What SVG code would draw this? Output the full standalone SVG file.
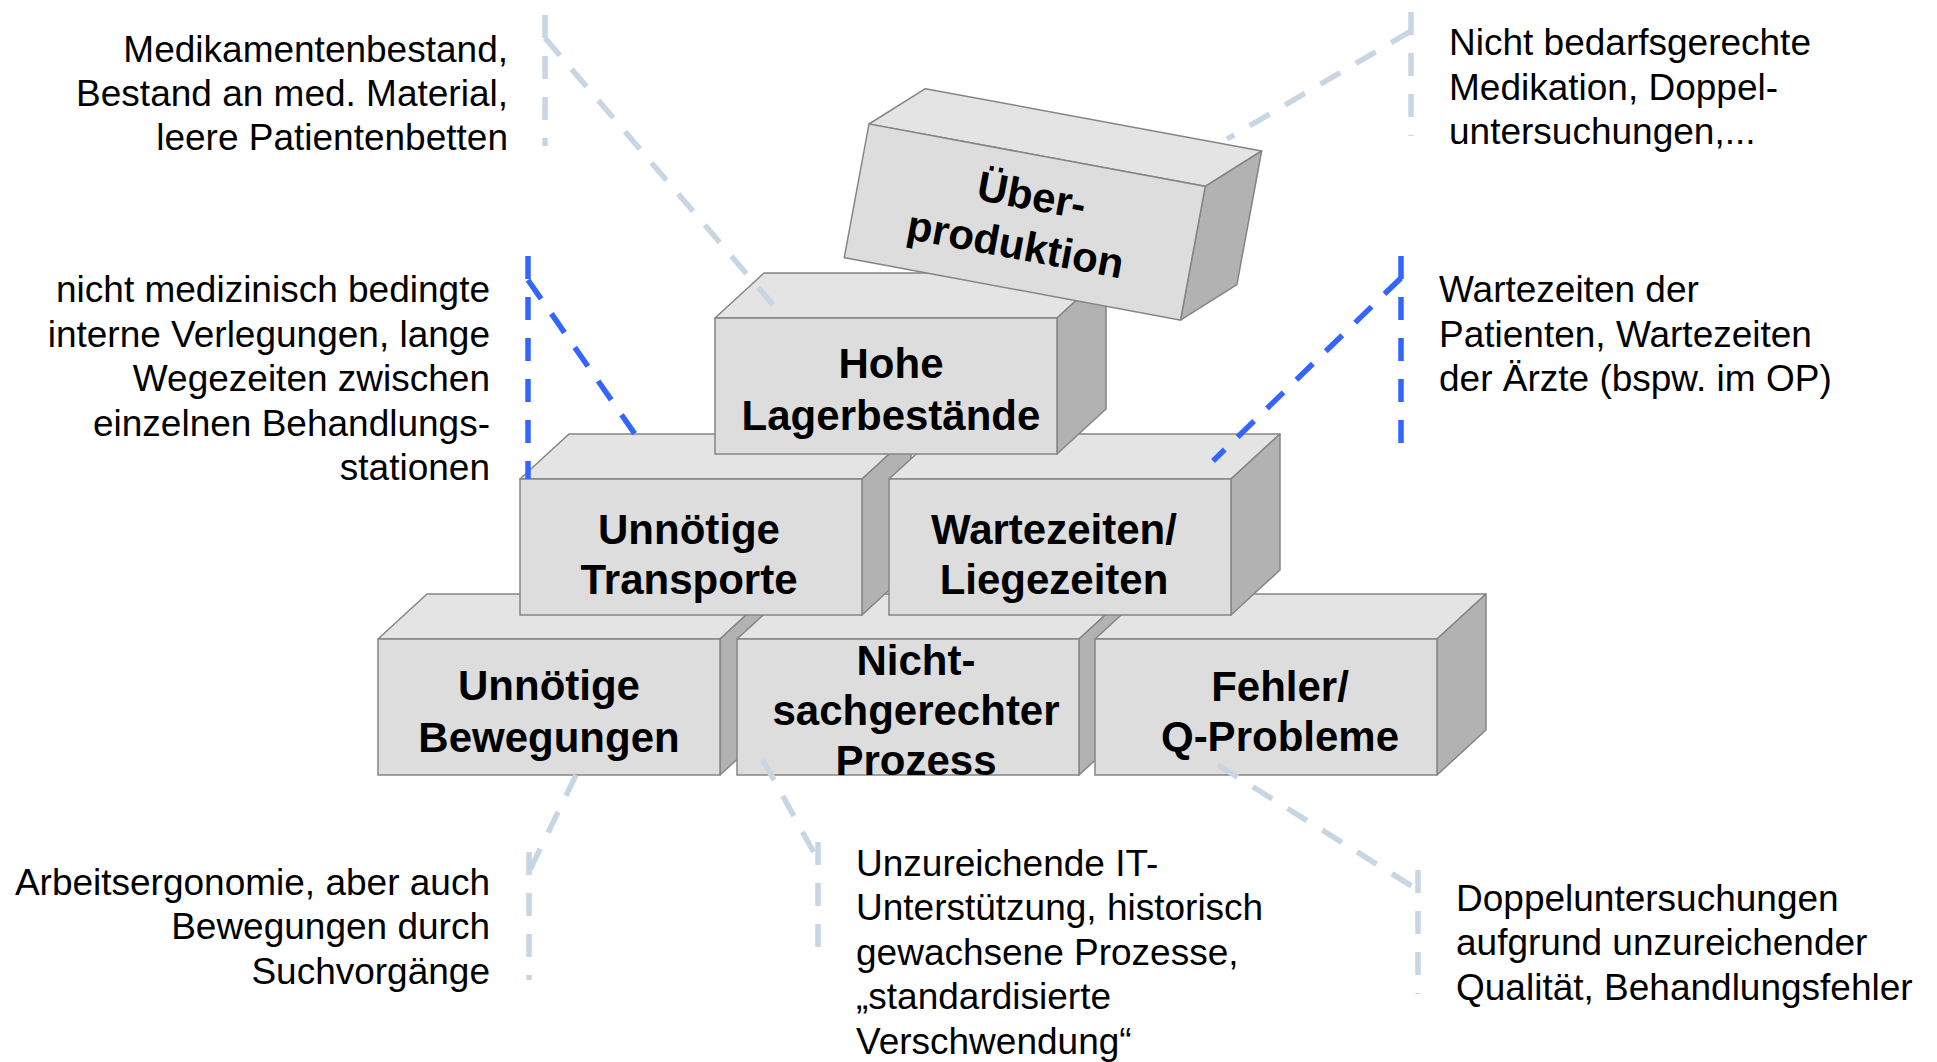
<svg xmlns="http://www.w3.org/2000/svg" width="1937" height="1062" viewBox="0 0 1937 1062">
  <style>
    .front { fill: #dddddd; stroke: #858585; stroke-width: 1.5; }
    .top { fill: #e4e4e4; stroke: #858585; stroke-width: 1.5; stroke-linejoin: round; }
    .side { fill: #b2b2b2; stroke: #858585; stroke-width: 1.5; stroke-linejoin: round; }
    .lbl { font-family: "Liberation Sans", Arial, sans-serif; font-weight: bold; font-size: 42px; fill: #000; text-anchor: middle; }
    .note { font-family: "Liberation Sans", Arial, sans-serif; font-size: 37px; fill: #000; }
    .end { text-anchor: end; }
    .lead { fill: none; stroke-width: 5.5; stroke-dasharray: 23 18; }
    .pale { stroke: #c8d6e3; }
    .blue { stroke: #3366ff; }
  </style>
  <defs>
    <!-- one block: front face at origin, top and right faces receding up-right -->
    <g id="cube">
      <polygon class="top" points="0,0 49,-45 391,-45 342,0"/>
      <polygon class="side" points="342,0 391,-45 391,91 342,136"/>
      <rect class="front" x="0" y="0" width="342" height="136"/>
    </g>
  </defs>

  <rect width="1937" height="1062" fill="#ffffff"/>

  <!-- bottom row -->
  <g id="bewegungen" transform="translate(378,639)">
    <use href="#cube"/>
    <text class="lbl" x="171" y="61">Unnötige</text>
    <text class="lbl" x="171" y="112.5">Bewegungen</text>
  </g>
  <g id="prozess" transform="translate(737,639)">
    <use href="#cube"/>
    <text class="lbl" x="179" y="35.5">Nicht-</text>
    <text class="lbl" x="179" y="85.5">sachgerechter</text>
    <text class="lbl" x="179" y="136">Prozess</text>
  </g>
  <g id="fehler" transform="translate(1095,639)">
    <use href="#cube"/>
    <text class="lbl" x="185" y="61.5">Fehler/</text>
    <text class="lbl" x="185" y="111.5">Q-Probleme</text>
  </g>

  <!-- middle row -->
  <g id="transporte" transform="translate(520,479)">
    <use href="#cube"/>
    <text class="lbl" x="169" y="64.5">Unnötige</text>
    <text class="lbl" x="169" y="114.5">Transporte</text>
  </g>
  <g id="wartezeiten" transform="translate(889,479)">
    <use href="#cube"/>
    <text class="lbl" x="165" y="64.5">Wartezeiten/</text>
    <text class="lbl" x="165" y="114.5">Liegezeiten</text>
  </g>

  <!-- top -->
  <g id="lager" transform="translate(715,318)">
    <use href="#cube"/>
    <text class="lbl" x="176" y="60">Hohe</text>
    <text class="lbl" x="176" y="111.5">Lagerbestände</text>
  </g>
  <g id="ueberproduktion" transform="translate(869,124) rotate(10.5)">
    <use href="#cube"/>
    <text class="lbl" x="173" y="55">Über-</text>
    <text class="lbl" x="166" y="106">produktion</text>
  </g>

  <!-- leader lines from the notes to the blocks -->
  <g id="connectors">
    <path class="lead pale" d="M545,15 V146"/>
    <path class="lead pale" d="M545,38 L780,313"/>
    <path class="lead pale" d="M1411,12 V136"/>
    <path class="lead pale" d="M1411,31 L1227,139"/>
    <path class="lead blue" d="M528,256 V479"/>
    <path class="lead blue" d="M528,280 L637,437"/>
    <path class="lead blue" d="M1401,256 V447"/>
    <path class="lead blue" d="M1401,278 L1213,461"/>
    <path class="lead pale" d="M529,852 V980"/>
    <path class="lead pale" d="M576,775 L529,872"/>
    <path class="lead pale" d="M818,842 V963"/>
    <path class="lead pale" d="M763,760 L818,860"/>
    <path class="lead pale" d="M1418,870 V994"/>
    <path class="lead pale" d="M1218,765 L1418,890"/>
  </g>

  <!-- notes -->
  <g id="note-lager" class="note end">
    <text x="508" y="62">Medikamentenbestand,</text>
    <text x="508" y="106">Bestand an med. Material,</text>
    <text x="508" y="150">leere Patientenbetten</text>
  </g>
  <g id="note-ueber" class="note">
    <text x="1449" y="55">Nicht bedarfsgerechte</text>
    <text x="1449" y="100">Medikation, Doppel-</text>
    <text x="1449" y="144">untersuchungen,...</text>
  </g>
  <g id="note-transporte" class="note end">
    <text x="490" y="302">nicht medizinisch bedingte</text>
    <text x="490" y="347">interne Verlegungen, lange</text>
    <text x="490" y="391">Wegezeiten zwischen</text>
    <text x="490" y="436">einzelnen Behandlungs-</text>
    <text x="490" y="480">stationen</text>
  </g>
  <g id="note-warte" class="note">
    <text x="1439" y="302">Wartezeiten der</text>
    <text x="1439" y="347">Patienten, Wartezeiten</text>
    <text x="1439" y="391">der Ärzte (bspw. im OP)</text>
  </g>
  <g id="note-bewegungen" class="note end">
    <text x="490" y="894.5">Arbeitsergonomie, aber auch</text>
    <text x="490" y="938.5">Bewegungen durch</text>
    <text x="490" y="983.5">Suchvorgänge</text>
  </g>
  <g id="note-prozess" class="note">
    <text x="856" y="876">Unzureichende IT-</text>
    <text x="856" y="920">Unterstützung, historisch</text>
    <text x="856" y="965">gewachsene Prozesse,</text>
    <text x="856" y="1009">„standardisierte</text>
    <text x="856" y="1054">Verschwendung“</text>
  </g>
  <g id="note-fehler" class="note">
    <text x="1456" y="910.5">Doppeluntersuchungen</text>
    <text x="1456" y="954.5">aufgrund unzureichender</text>
    <text x="1456" y="999.5">Qualität, Behandlungsfehler</text>
  </g>
</svg>
